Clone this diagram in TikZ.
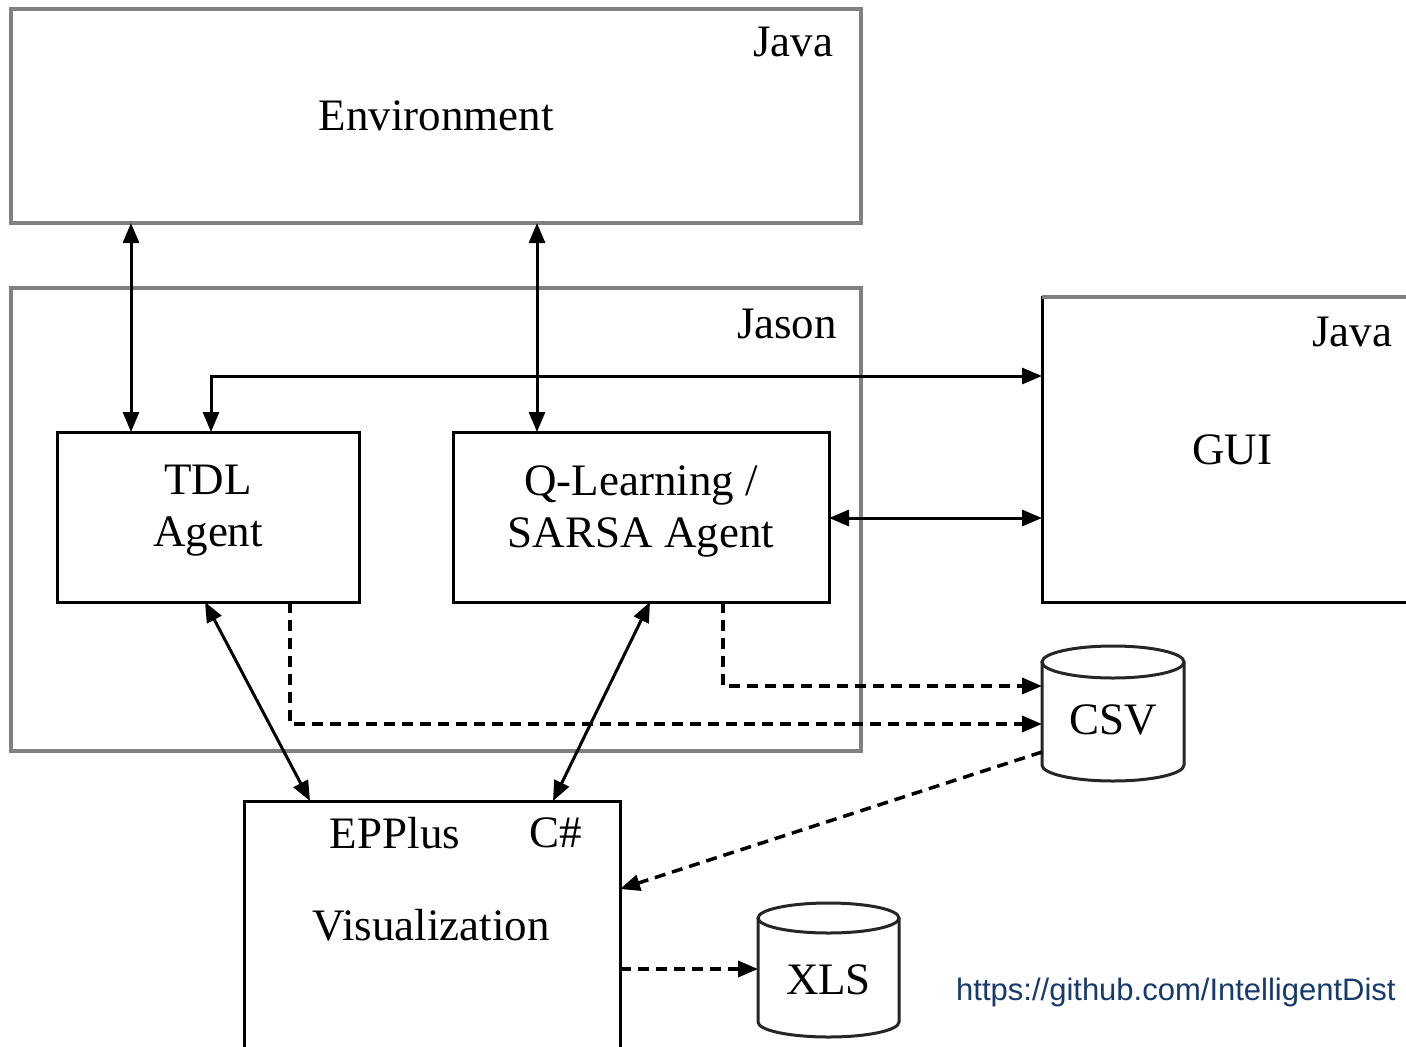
\documentclass[tikz,border=0pt]{standalone}
\usepackage{fontspec}
\setmainfont{Liberation Serif}
\newfontfamily\urlfont{Liberation Sans}
\usetikzlibrary{arrows.meta}
\definecolor{bordergray}{RGB}{128,128,128}
\definecolor{urlblue}{RGB}{22,58,110}
\begin{document}
\begin{tikzpicture}[x=1pt,y=-1pt,
  tipA/.tip={Triangle[length=20pt,width=16pt]},
  txt/.style={font=\fontsize{45}{52}\selectfont, inner sep=0pt, outer sep=0pt, align=center},
  outerbox/.style={draw=bordergray, line width=3.5pt, inner sep=0pt, outer sep=0pt, font=\fontsize{45}{52}\selectfont},
  box/.style={draw=black, line width=3pt, inner sep=0pt, outer sep=0pt, font=\fontsize{45}{52}\selectfont, align=center},
  store/.style={inner sep=0pt, outer sep=0pt, font=\fontsize{45}{52}\selectfont},
  cyl/.style={draw=black!85, line width=3pt},
  biarrow/.style={line width=3pt, tipA-tipA},
  dasharrow/.style={line width=3.5pt, dash pattern=on 11pt off 7pt, -tipA}
]
\useasboundingbox (0,0) rectangle (1406,1047);
\fill[white] (0,0) rectangle (1406,1047);
\clip (0,0) rectangle (1406,1047);

% containers
\node[outerbox, minimum width=850pt, minimum height=214pt] (env) at (436,116) {Environment};
\node[txt] (javaA) at (793,42) {Java};
\node[outerbox, minimum width=850pt, minimum height=463pt] (jason) at (436,519.5) {};
\node[txt] (jasonlbl) at (787,324) {Jason};

% agents
\node[box, minimum width=302pt, minimum height=170pt,
      label={[txt,yshift=6pt]center:TDL\\Agent}] (tdl) at (208,517) {};
\node[box, minimum width=376pt, minimum height=170pt,
      label={[txt,yshift=6pt]center:Q-Learning /\\SARSA Agent}] (ql) at (641,517) {};

% GUI
\node[box, minimum width=380pt, minimum height=305pt] (gui) at (1232,449.5) {GUI};
\draw[bordergray, line width=3.5pt] (gui.north west) -- (gui.north east);
\node[txt] (javaB) at (1352,332) {Java};

% EPPlus
\node[box, minimum width=376pt, minimum height=260pt] (epp) at (432,931) {};
\node[txt] (epplus) at (395,833) {EPPlus};
\node[txt] (csharp) at (556,833) {C\#};
\node[txt] (vis) at (431,925) {Visualization};

% CSV store
\draw[cyl, fill=white] (1042,662) -- (1042,765) arc[start angle=180,end angle=360,x radius=71pt,y radius=16pt] -- (1184,662);
\draw[cyl] (1113,662) ellipse[x radius=71pt,y radius=16pt];
\node[store, minimum width=142pt, minimum height=100pt] (csv) at (1113,720) {CSV};

% XLS store
\draw[cyl, fill=white] (758,918) -- (758,1022) arc[start angle=180,end angle=360,x radius=70.5pt,y radius=15pt] -- (899,918);
\draw[cyl] (828.5,918) ellipse[x radius=70.5pt,y radius=15pt];
\node[store, minimum width=141pt, minimum height=100pt] (xls) at (828.5,980) {XLS};

% connectors
\draw[biarrow] (env.south -| 131,0) -- (tdl.north -| 131,0);
\draw[biarrow] (env.south -| 537,0) -- (ql.north -| 537,0);
\draw[biarrow] (tdl.north -| 211,0) |- (gui.west |- 0,376);
\draw[biarrow] (ql.east |- 0,518) -- (gui.west |- 0,518);
\draw[biarrow] (tdl.south -| 205,0) -- (epp.north -| 310,0);
\draw[biarrow] (ql.south -| 650,0) -- (epp.north -| 553,0);
\draw[dasharrow] (tdl.south -| 290,0) |- (csv.west |- 0,724);
\draw[dasharrow] (ql.south -| 723,0) |- (csv.west |- 0,686);
\draw[dasharrow] (csv.west |- 0,752) -- (epp.east |- 0,889);
\draw[dasharrow] (epp.east |- 0,969) -- (xls.west |- 0,969);

% source
\node[anchor=west, font=\urlfont\fontsize{31}{36}\selectfont, text=urlblue, inner sep=0pt] (url) at (956,992) {https://github.com/IntelligentDist};
\end{tikzpicture}
\end{document}
